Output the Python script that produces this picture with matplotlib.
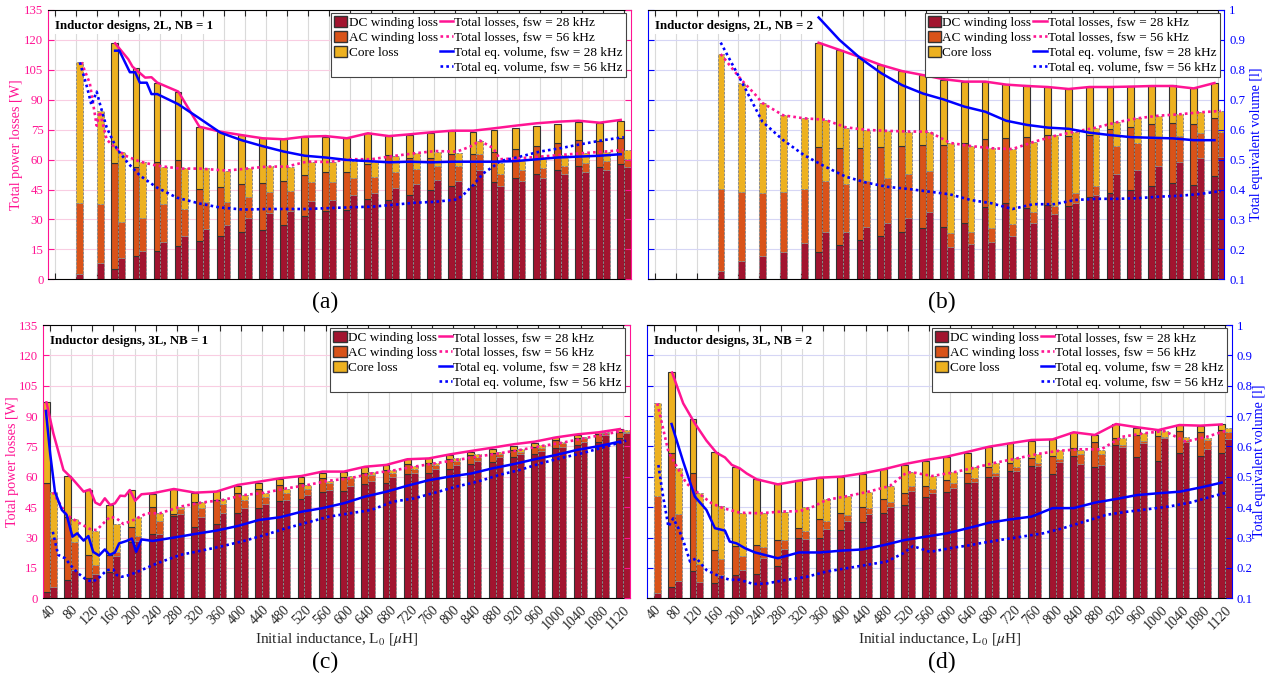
import matplotlib.pyplot as plt
import numpy as np
from matplotlib.patches import Patch
from matplotlib.lines import Line2D

plt.rcParams['font.family'] = ['Liberation Serif', 'DejaVu Serif']
plt.rcParams['mathtext.fontset'] = 'stix'

nan = np.nan

# initial inductance of each design [uH]
L0 = [40, 80, 120, 160, 200, 240, 280, 320, 360, 400, 440, 480, 520, 560,
      600, 640, 680, 720, 760, 800, 840, 880, 920, 960, 1000, 1040, 1080, 1120]
loss_ticks = [0, 15, 30, 45, 60, 75, 90, 105, 120, 135]
vol_ticks = [0.1, 0.2, 0.3, 0.4, 0.5, 0.6, 0.7, 0.8, 0.9, 1.0]
vol_ticklabels = ['0.1', '0.2', '0.3', '0.4', '0.5', '0.6', '0.7', '0.8', '0.9', '1']

# bar data: DC winding loss, DC+AC winding loss, total loss [W]
# (a) 2L, NB = 1
a28_dc = [nan, nan, nan, 5.3, 11.7, 14.2, 16.7, 19.0, 21.7, 23.9, 24.7, 27.1, 31.7, 34.4,
          34.8, 40.1, 39.8, 42.3, 44.8, 46.8, 47.3, 48.6, 50.6, 52.8, 54.8, 56.8, 56.1, 57.8]
a28_wind = [nan, nan, nan, 58.5, 56.5, 58.6, 59.6, 45.3, 46.4, 47.6, 48.1, 49.3, 52.5, 54.0,
            54.0, 57.6, 62.3, 60.7, 60.7, 62.7, 62.7, 63.7, 65.3, 66.8, 68.2, 69.8, 69.3, 70.7]
a28_tot = [nan, nan, nan, 118.3, 106.1, 98.6, 94.1, 76.2, 74.0, 72.3, 70.7, 70.2, 71.5, 71.5,
           70.7, 73.2, 72.0, 72.3, 73.5, 74.4, 74.0, 74.9, 76.0, 77.0, 77.9, 78.7, 78.5, 79.5]
a56_dc = [nan, 2.7, 8.0, 10.5, 14.2, 18.5, 21.7, 25.2, 27.2, 30.6, 33.1, 34.3, 39.4, 39.8,
          42.3, 43.4, 45.6, 47.8, 49.8, 49.5, 54.8, 47.0, 49.5, 51.0, 52.6, 53.6, 54.8, 56.1]
a56_wind = [nan, 38.1, 37.6, 28.6, 30.6, 37.8, 35.3, 38.6, 38.9, 41.4, 43.6, 44.4, 48.6, 48.6,
            51.0, 51.5, 53.7, 55.3, 57.0, 57.0, 62.8, 52.6, 54.8, 55.6, 57.0, 58.1, 59.3, 60.3]
a56_tot = [nan, 108.8, 84.4, 64.0, 58.6, 56.5, 55.6, 55.6, 54.5, 55.6, 57.0, 56.5, 59.0, 58.6,
           59.3, 59.0, 61.8, 63.2, 64.0, 63.5, 69.5, 58.1, 59.8, 61.5, 62.3, 63.2, 64.0, 64.8]

# (b) 2L, NB = 2
b28_dc = [nan, nan, nan, nan, nan, nan, nan, nan, 13.9, 17.2, 19.7, 21.7, 23.9, 25.9,
          26.4, 28.1, 36.4, 38.1, 35.6, 37.3, 36.9, 41.4, 43.4, 44.8, 46.8, 48.5, 47.3, 52.0]
b28_wind = [nan, nan, nan, nan, nan, nan, nan, nan, 66.2, 65.7, 66.0, 66.5, 66.8, 67.3,
            67.3, 68.2, 70.2, 70.7, 71.5, 72.3, 71.8, 72.3, 75.4, 76.5, 77.7, 78.5, 77.7, 80.7]
b28_tot = [nan, nan, nan, nan, nan, nan, nan, nan, 118.6, 115.0, 110.8, 107.4, 104.6, 102.4,
           99.9, 99.1, 99.1, 97.7, 97.4, 96.6, 95.2, 96.6, 96.6, 96.9, 96.9, 97.4, 95.7, 98.6]
b56_dc = [nan, nan, nan, 4.3, 9.2, 11.7, 13.9, 18.0, 23.9, 23.6, 26.1, 28.4, 30.6, 33.6,
          16.0, 17.5, 18.9, 21.7, 28.4, 32.7, 38.4, 42.3, 52.6, 54.8, 56.8, 58.6, 60.7, 61.5]
b56_wind = [nan, nan, nan, 45.1, 43.6, 43.1, 43.6, 45.3, 49.5, 47.8, 49.3, 51.0, 52.6, 54.3,
            23.0, 23.9, 25.6, 27.6, 33.9, 36.9, 43.4, 46.9, 67.0, 68.4, 71.2, 71.8, 73.5, 74.0]
b56_tot = [nan, nan, nan, 112.9, 98.2, 88.6, 82.4, 80.7, 79.9, 76.0, 74.9, 74.4, 74.0, 74.0,
           68.2, 66.8, 65.7, 65.2, 69.0, 72.3, 74.0, 76.0, 78.7, 80.7, 81.9, 82.7, 83.7, 84.4]

# (c) 3L, NB = 1
c28_dc = [3.0, 9.1, 9.9, 13.2, 28.0, 31.8, 40.8, 35.1, 36.7, 42.3, 44.8, 47.9, 49.1, 52.7,
          53.0, 56.3, 57.1, 61.2, 61.7, 63.9, 66.2, 67.5, 70.0, 71.1, 74.1, 75.7, 77.0, 79.4]
c28_wind = [56.8, 40.3, 21.4, 21.4, 35.4, 44.9, 41.7, 47.4, 48.6, 52.2, 53.8, 56.0, 56.8, 59.3,
            60.1, 62.1, 63.4, 66.2, 67.0, 68.8, 70.8, 71.9, 73.3, 74.9, 78.2, 79.4, 81.2, 82.3]
c28_tot = [96.8, 60.4, 53.5, 46.1, 53.5, 51.5, 53.8, 51.9, 53.0, 55.5, 57.1, 58.8, 60.1, 62.1,
           62.6, 65.0, 65.9, 68.7, 69.1, 70.8, 72.4, 73.8, 75.2, 76.6, 79.8, 80.7, 82.0, 83.6]
c56_dc = [5.8, 14.0, 11.9, 20.9, 28.3, 31.6, 41.7, 40.0, 42.3, 44.8, 46.4, 48.6, 51.0, 53.5,
          55.6, 58.0, 59.8, 61.7, 63.9, 65.9, 67.8, 70.0, 71.3, 72.8, 74.9, 77.4, 80.7, 81.5]
c56_wind = [29.6, 28.0, 16.5, 23.0, 30.8, 38.4, 44.1, 44.8, 46.4, 48.6, 49.9, 51.9, 54.0, 56.8,
            59.3, 60.9, 62.1, 63.7, 65.9, 68.0, 70.0, 71.1, 72.4, 74.4, 76.6, 79.0, 81.5, 82.3]
c56_tot = [52.4, 39.2, 33.3, 36.5, 40.0, 42.3, 44.9, 47.4, 48.9, 51.0, 52.2, 54.0, 56.0, 58.0,
           60.6, 62.2, 63.4, 65.4, 67.0, 69.1, 71.1, 72.4, 73.6, 75.7, 77.4, 79.8, 82.0, 83.1]

# (d) 3L, NB = 2
d28_dc = [nan, 5.8, 13.5, 7.4, 11.5, 11.9, 16.0, 29.6, 29.6, 33.8, 37.9, 42.0, 46.1, 49.9,
          52.7, 56.8, 60.1, 62.9, 65.4, 61.4, 70.5, 65.0, 75.7, 70.0, 67.8, 71.9, 70.5, 71.6]
d28_wind = [nan, 71.9, 61.7, 23.9, 25.8, 26.3, 28.8, 34.6, 39.0, 42.0, 44.9, 48.9, 52.2, 55.6,
            58.4, 61.7, 64.7, 67.0, 69.1, 70.3, 74.4, 77.4, 79.0, 80.7, 80.2, 82.6, 82.3, 83.1]
d28_tot = [nan, 112.0, 88.4, 72.4, 65.0, 58.8, 56.3, 58.4, 59.6, 60.1, 61.4, 63.7, 65.9, 68.0,
           70.0, 71.9, 74.6, 76.6, 77.7, 78.5, 82.0, 80.7, 86.1, 84.0, 83.1, 85.6, 85.1, 85.9]
d56_dc = [2.5, 8.7, 7.9, 11.5, 14.0, 19.8, 24.2, 29.1, 34.2, 38.2, 41.7, 45.3, 53.0, 51.9,
          54.3, 57.3, 60.6, 62.9, 65.4, 67.5, 66.2, 65.9, 74.9, 76.9, 79.0, 77.0, 73.8, 78.5]
d56_wind = [50.5, 41.7, 17.0, 19.4, 21.1, 25.2, 28.8, 33.3, 38.2, 41.2, 44.5, 47.7, 55.5, 54.0,
            56.8, 59.3, 61.7, 64.7, 66.7, 68.7, 71.3, 71.1, 75.7, 77.7, 79.8, 78.2, 78.2, 82.0]
d56_tot = [96.3, 64.5, 51.9, 45.6, 42.3, 42.3, 42.8, 45.3, 48.9, 50.5, 52.7, 55.5, 62.2, 60.4,
           62.2, 65.0, 67.0, 69.1, 71.3, 73.3, 73.3, 73.3, 79.0, 81.5, 82.8, 79.5, 79.4, 84.0]

# line data: total losses [W] and total equivalent volume [l] vs inductance [uH]
a_p28_x = [154, 179, 187, 211, 223, 234, 274, 314, 354, 394, 434, 474, 514, 554,
           594, 634, 674, 714, 754, 794, 834, 874, 914, 954, 994, 1034, 1074, 1114]
a_p28 = [118.3, 110.3, 106.6, 101.1, 101.3, 98.6, 94.1, 76.5, 74.0, 72.3, 70.7, 70.2, 71.5, 71.8,
         70.7, 73.2, 71.8, 72.7, 73.7, 74.5, 74.5, 75.7, 77.0, 78.2, 79.0, 79.5, 78.5, 79.9]
a_p56_x = [90, 106, 119, 125, 138, 154, 173, 201, 233, 277, 315, 366, 404, 442, 480, 518, 559,
           603, 641, 682, 724, 762, 803, 828, 847, 872, 885, 923, 961, 999, 1040, 1081, 1119]
a_p56 = [108.8, 98.2, 77.0, 84.0, 70.0, 66.0, 62.0, 59.0, 57.0, 55.5, 55.5, 54.5, 55.5, 56.5, 56.5,
         59.0, 58.8, 60.2, 60.2, 61.8, 63.2, 64.3, 64.0, 66.5, 69.5, 65.7, 60.2, 60.7, 61.5, 62.3,
         63.2, 64.0, 64.8]
a_v28_x = [154, 162, 182, 192, 201, 214, 223, 234, 274, 314, 354, 394, 434, 474, 514,
           554, 594, 634, 674, 714, 754, 794, 834, 874, 914, 954, 994, 1034, 1074, 1114]
a_v28 = [0.864, 0.864, 0.792, 0.792, 0.757, 0.757, 0.719, 0.719, 0.685, 0.638, 0.590, 0.565,
         0.545, 0.527, 0.513, 0.507, 0.499, 0.495, 0.491, 0.493, 0.491, 0.493, 0.493, 0.493,
         0.495, 0.501, 0.507, 0.510, 0.513, 0.518]
a_v56_x = [87, 101, 109, 119, 125, 138, 157, 179, 201, 233, 271, 315, 353, 398, 442, 480, 518,
           560, 606, 644, 682, 724, 762, 803, 815, 834, 853, 872, 885, 923, 961, 999, 1040, 1081, 1120]
a_v56 = [0.825, 0.740, 0.683, 0.727, 0.687, 0.607, 0.537, 0.487, 0.447, 0.407, 0.373, 0.353,
         0.340, 0.333, 0.335, 0.335, 0.335, 0.338, 0.341, 0.343, 0.349, 0.356, 0.359, 0.367,
         0.382, 0.415, 0.454, 0.477, 0.495, 0.510, 0.527, 0.538, 0.552, 0.565, 0.575]

b_p28_x = [354, 394, 434, 474, 514, 554, 594, 634, 674, 714, 754, 794, 834, 874, 914,
           954, 994, 1034, 1074, 1114]
b_p28 = [118.6, 115.0, 111.3, 107.4, 104.4, 102.4, 100.3, 99.1, 99.1, 97.6, 96.9, 96.4, 95.4,
         96.4, 96.4, 96.6, 96.9, 96.9, 95.7, 98.4]
b_p56_x = [166, 206, 232, 246, 286, 326, 366, 406, 446, 486, 526, 566, 606, 646, 686, 726, 766,
           806, 846, 886, 926, 966, 1006, 1046, 1086, 1126]
b_p56 = [112.9, 99.9, 92.7, 88.4, 82.2, 80.7, 80.0, 76.2, 74.9, 74.4, 74.1, 74.0, 68.4, 66.8,
         65.7, 65.3, 68.8, 71.8, 74.0, 76.0, 78.7, 80.7, 82.0, 82.7, 83.7, 84.4]
b_v28_x = [354, 394, 434, 474, 514, 554, 594, 634, 674, 714, 754, 794, 834, 874, 914,
           954, 994, 1034, 1074, 1114]
b_v28 = [0.975, 0.900, 0.839, 0.789, 0.749, 0.721, 0.701, 0.677, 0.660, 0.630, 0.616, 0.607,
         0.603, 0.590, 0.582, 0.575, 0.573, 0.571, 0.565, 0.565]
b_v56_x = [166, 206, 246, 286, 326, 366, 406, 446, 486, 526, 566, 606, 646, 686, 726, 766, 806,
           846, 886, 926, 966, 1006, 1046, 1086, 1126]
b_v56 = [0.891, 0.761, 0.627, 0.565, 0.515, 0.477, 0.443, 0.423, 0.409, 0.402, 0.393, 0.384,
         0.365, 0.354, 0.335, 0.351, 0.351, 0.365, 0.369, 0.369, 0.371, 0.376, 0.379, 0.385, 0.395]

c_p28_x = [34, 47, 66, 82, 104, 116, 126, 135, 144, 154, 163, 173, 182, 191, 201, 213, 234, 274,
           314, 354, 394, 434, 474, 514, 554, 594, 634, 674, 714, 754, 794, 834, 874, 914, 954,
           994, 1034, 1074, 1114]
c_p28 = [96.8, 81.5, 63.4, 59.3, 52.7, 53.8, 47.3, 46.1, 49.4, 46.1, 46.9, 50.7, 50.5, 53.5,
         48.2, 51.4, 51.9, 54.0, 52.2, 52.7, 56.0, 57.6, 59.3, 60.4, 62.6, 62.6, 65.0, 65.9,
         68.7, 69.1, 71.1, 72.8, 74.4, 76.1, 77.4, 79.5, 81.0, 82.0, 83.6]
c_p56_x = [46, 72, 97, 119, 129, 141, 154, 166, 179, 198, 223, 248, 286, 326, 366, 406, 446,
           486, 526, 566, 606, 646, 686, 726, 766, 806, 846, 886, 926, 966, 1006, 1046, 1086, 1126]
c_p56 = [52.4, 41.2, 37.0, 33.8, 33.8, 37.0, 40.3, 39.5, 36.7, 38.7, 42.0, 42.0, 45.3, 47.3,
         48.6, 51.0, 52.2, 54.3, 56.0, 58.1, 59.3, 61.7, 63.1, 65.0, 66.7, 68.3, 70.0, 71.6,
         73.3, 75.2, 76.9, 79.0, 81.0, 83.1]
c_v28_x = [33, 41, 50, 63, 72, 83, 92, 104, 113, 122, 133, 144, 153, 163, 171, 185, 195, 203,
           213, 234, 274, 314, 354, 394, 434, 474, 514, 554, 594, 634, 674, 714, 754, 794, 834,
           874, 914, 954, 994, 1034, 1074, 1114]
c_v28 = [0.717, 0.577, 0.451, 0.391, 0.375, 0.303, 0.314, 0.290, 0.305, 0.253, 0.241, 0.261,
         0.243, 0.251, 0.281, 0.289, 0.297, 0.253, 0.294, 0.289, 0.300, 0.312, 0.323, 0.338,
         0.358, 0.367, 0.385, 0.397, 0.413, 0.435, 0.451, 0.471, 0.489, 0.501, 0.511, 0.528,
         0.542, 0.558, 0.572, 0.589, 0.601, 0.616]
c_v56_x = [46, 56, 69, 82, 94, 110, 122, 135, 148, 160, 166, 176, 191, 213, 242, 286, 326, 366,
           406, 446, 486, 526, 566, 606, 646, 686, 726, 766, 806, 846, 886, 926, 966, 1006, 1046,
           1086, 1126]
c_v56 = [0.319, 0.243, 0.232, 0.204, 0.182, 0.160, 0.155, 0.171, 0.193, 0.195, 0.177, 0.171,
         0.177, 0.193, 0.215, 0.243, 0.257, 0.272, 0.289, 0.309, 0.331, 0.350, 0.369, 0.380,
         0.391, 0.418, 0.429, 0.448, 0.468, 0.484, 0.506, 0.523, 0.545, 0.563, 0.579, 0.599, 0.619]

d_p28_x = [74, 95, 117, 139, 158, 174, 187, 202, 215, 234, 274, 314, 354, 394, 434, 474, 514,
           554, 594, 634, 674, 714, 754, 794, 834, 874, 914, 954, 994, 1034, 1074, 1114]
d_p28 = [111.5, 96.3, 86.4, 77.9, 71.9, 69.6, 65.9, 64.2, 61.7, 58.8, 56.3, 58.1, 59.6, 60.1,
         61.7, 63.7, 66.3, 68.3, 70.0, 72.4, 74.9, 76.6, 78.2, 78.5, 82.0, 80.7, 86.1, 84.5,
         83.1, 85.6, 85.3, 85.9]
d_p56_x = [46, 67, 83, 101, 124, 149, 171, 202, 240, 278, 316, 341, 366, 406, 446, 486, 518,
           530, 566, 606, 646, 686, 726, 766, 806, 846, 886, 926, 966, 1006, 1046, 1086, 1126]
d_p56 = [96.3, 72.4, 65.0, 56.8, 51.9, 46.9, 44.5, 42.3, 42.0, 42.8, 43.1, 45.3, 48.6, 50.5,
         52.7, 55.5, 62.2, 62.2, 60.4, 62.2, 64.5, 67.0, 69.1, 71.3, 72.9, 73.6, 73.6, 79.8,
         81.5, 82.6, 77.4, 79.8, 83.1]
d_v28_x = [73, 95, 117, 139, 155, 174, 183, 196, 212, 231, 274, 314, 354, 394, 434, 474, 514,
           554, 594, 634, 674, 714, 754, 794, 834, 874, 914, 954, 994, 1034, 1074, 1114]
d_v28 = [0.674, 0.550, 0.435, 0.391, 0.331, 0.323, 0.287, 0.281, 0.265, 0.251, 0.232, 0.251,
         0.251, 0.257, 0.261, 0.275, 0.292, 0.303, 0.314, 0.331, 0.349, 0.360, 0.369, 0.397,
         0.397, 0.415, 0.427, 0.440, 0.446, 0.451, 0.465, 0.481]
d_v56_x = [48, 57, 67, 76, 86, 98, 108, 120, 139, 165, 183, 202, 228, 253, 291, 329, 366, 404,
           442, 480, 511, 530, 562, 600, 638, 656, 694, 735, 776, 814, 855, 896, 934, 972, 1013,
           1054, 1095, 1123]
d_v56 = [0.539, 0.435, 0.336, 0.363, 0.331, 0.275, 0.221, 0.232, 0.193, 0.171, 0.161, 0.161,
         0.147, 0.149, 0.161, 0.171, 0.188, 0.199, 0.210, 0.221, 0.248, 0.272, 0.253, 0.265,
         0.275, 0.281, 0.292, 0.303, 0.314, 0.331, 0.353, 0.375, 0.385, 0.393, 0.402, 0.415,
         0.435, 0.448]

DC_C = '#A2142F'
AC_C = '#D95319'
CORE_C = '#EDB120'
PINK = '#FF1493'
BLUE = '#0000FF'
W = 13.0  # bar width in uH

fig = plt.figure(figsize=(12.83, 6.75), dpi=100)


def draw_panel(rect, bars28, bars56, p28, p56, v28, v56, title, side, letter_xy, letter, xlabels, ylab_x):
    ax = fig.add_axes(rect)
    x = np.array(L0, dtype=float)
    styles = [(bars28, -W / 2, '#333333', '-', 0.8), (bars56, W / 2, '#8a8a8a', (0, (2.5, 1.5)), 0.7)]
    for (dc, wind, tot), off, ec, ls, lw in styles:
        dc, wind, tot = np.array(dc), np.array(wind), np.array(tot)
        m = ~np.isnan(tot)
        xs = x[m] + off
        ax.bar(xs, dc[m], W, color=DC_C, edgecolor=ec, linewidth=lw, linestyle=ls, zorder=2)
        ax.bar(xs, wind[m] - dc[m], W, bottom=dc[m], color=AC_C, edgecolor=ec, linewidth=lw,
               linestyle=ls, zorder=2)
        ax.bar(xs, tot[m] - wind[m], W, bottom=wind[m], color=CORE_C, edgecolor=ec, linewidth=lw,
               linestyle=ls, zorder=2)
    ax.plot(p28[0], p28[1], color=PINK, lw=1.8, zorder=3)
    ax.plot(p56[0], p56[1], color=PINK, lw=1.9, ls=(0, (1, 1.2)), zorder=3)
    ax.set_xlim(L0[0] - W, L0[-1] + W)
    ax.set_ylim(0, 135)
    ax.set_yticks(loss_ticks)
    ax.set_xticks(L0)
    ax.set_axisbelow(True)
    gcol = '#F9CDE2' if side == 'left' else '#D6D6F5'
    ax.grid(axis='y', color=gcol, lw=0.8)
    ax.grid(axis='x', color='#DADADA', lw=0.8)
    acol = PINK if side == 'left' else BLUE
    ax.tick_params(axis='both', direction='in', length=4, top=True)
    ax.tick_params(axis='y', colors=acol, labelleft=(side == 'left'), labelsize=9.2)
    ax.tick_params(axis='x', colors='#262626', labelsize=10)
    ax.spines['left'].set_color(acol)
    ax.spines['right'].set_visible(False)
    if xlabels:
        ax.set_xticklabels([str(v) for v in L0], rotation=45, ha='right', rotation_mode='anchor')
        ax.set_xlabel(r'Initial inductance, L$_0$ [$\mu$H]', fontsize=11, color='#262626', labelpad=-1)
    else:
        ax.tick_params(axis='x', labelbottom=False)
    if side == 'left':
        ax.set_ylabel('Total power losses [W]', color=PINK, fontsize=10.2, va='center')
        ax.yaxis.set_label_coords(ylab_x, 0.5)

    ax2 = ax.twinx()
    ax2.plot(v28[0], v28[1], color=BLUE, lw=1.8, zorder=3)
    ax2.plot(v56[0], v56[1], color=BLUE, lw=1.9, ls=(0, (1, 1.2)), zorder=3)
    ax2.set_ylim(0.1, 1.0)
    ax2.set_yticks(vol_ticks)
    ax2.set_yticklabels(vol_ticklabels)
    for s in ('left', 'top', 'bottom'):
        ax2.spines[s].set_visible(False)
    ax2.spines['right'].set_color(acol)
    ax2.tick_params(axis='y', direction='in', length=4, colors=acol, labelsize=9.2,
                    labelright=(side == 'right'))
    if side == 'right':
        ax2.set_ylabel('Total equivalent volume [l]', color=BLUE, fontsize=10.2, va='center')
        ax2.yaxis.set_label_coords(ylab_x, 0.5)

    ax2.text(0.012, 0.942, title, transform=ax2.transAxes, fontsize=9.3, fontweight='bold',
             va='center', ha='left', zorder=5,
             bbox=dict(facecolor='white', edgecolor='none', pad=1.5))
    handles = [Patch(facecolor=DC_C, edgecolor='#333333'), Patch(facecolor=AC_C, edgecolor='#333333'),
               Patch(facecolor=CORE_C, edgecolor='#333333'), Line2D([], [], color='none'),
               Line2D([], [], color=PINK, lw=1.8), Line2D([], [], color=PINK, lw=1.9, ls=(0, (1, 1.2))),
               Line2D([], [], color=BLUE, lw=1.8), Line2D([], [], color=BLUE, lw=1.9, ls=(0, (1, 1.2)))]
    labels = ['DC winding loss', 'AC winding loss', 'Core loss', '',
              'Total losses, fsw = 28 kHz', 'Total losses, fsw = 56 kHz',
              'Total eq. volume, fsw = 28 kHz', 'Total eq. volume, fsw = 56 kHz']
    leg = ax2.legend(handles, labels, ncol=2, loc='upper right', bbox_to_anchor=(0.992, 0.99),
                     borderaxespad=0, fontsize=9.5, handlelength=1.0, handleheight=0.95,
                     handletextpad=0.1, columnspacing=0.15, labelspacing=0.12, borderpad=0.25,
                     fancybox=False, framealpha=1, edgecolor='#444444')
    leg.get_frame().set_linewidth(0.8)
    fig.text(letter_xy[0], letter_xy[1], letter, fontsize=17, ha='center', va='center')


draw_panel([0.0376, 0.5862, 0.454, 0.399], (a28_dc, a28_wind, a28_tot), (a56_dc, a56_wind, a56_tot),
           (a_p28_x, a_p28), (a_p56_x, a_p56), (a_v28_x, a_v28), (a_v56_x, a_v56),
           'Inductor designs, 2L, NB = 1', 'left', (0.2533, 0.5526), '(a)', False, -0.0537)
draw_panel([0.5053, 0.5862, 0.449, 0.399], (b28_dc, b28_wind, b28_tot), (b56_dc, b56_wind, b56_tot),
           (b_p28_x, b_p28), (b_p56_x, b_p56), (b_v28_x, b_v28), (b_v56_x, b_v56),
           'Inductor designs, 2L, NB = 2', 'right', (0.7342, 0.5526), '(b)', False, 1.055)
draw_panel([0.0333, 0.1136, 0.4577, 0.4049], (c28_dc, c28_wind, c28_tot), (c56_dc, c56_wind, c56_tot),
           (c_p28_x, c_p28), (c_p56_x, c_p56), (c_v28_x, c_v28), (c_v56_x, c_v56),
           'Inductor designs, 3L, NB = 1', 'left', (0.2533, 0.0185), '(c)', True, -0.0523)
draw_panel([0.5045, 0.1136, 0.4555, 0.4049], (d28_dc, d28_wind, d28_tot), (d56_dc, d56_wind, d56_tot),
           (d_p28_x, d_p28), (d_p56_x, d_p56), (d_v28_x, d_v28), (d_v56_x, d_v56),
           'Inductor designs, 3L, NB = 2', 'right', (0.7342, 0.0185), '(d)', True, 1.047)

fig.savefig('out.png', dpi=100)
